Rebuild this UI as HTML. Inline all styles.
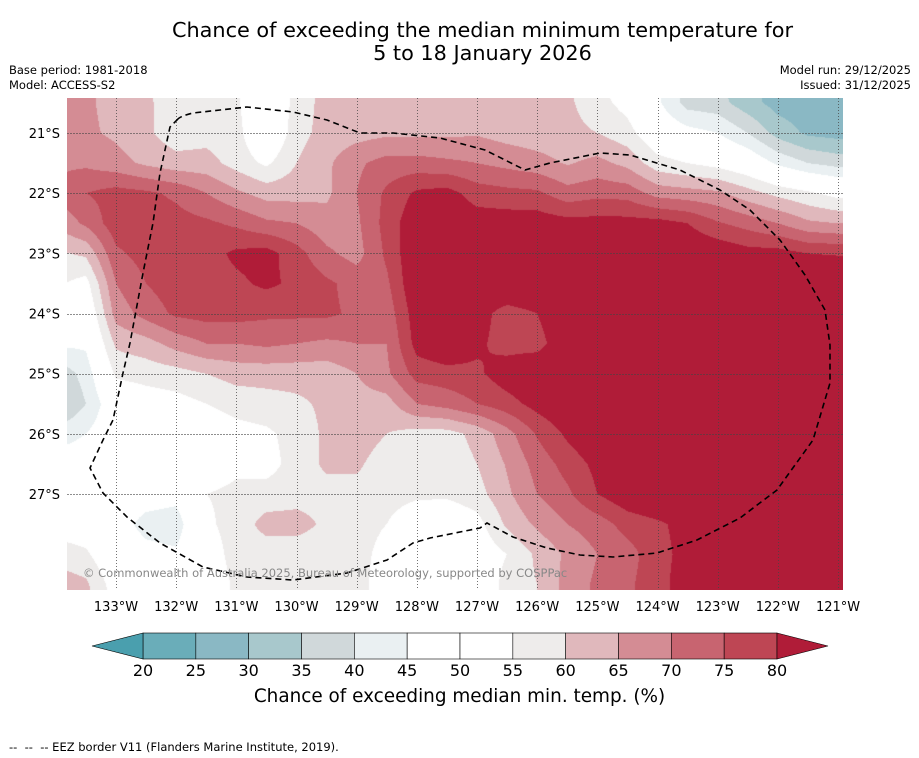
<!DOCTYPE html>
<html><head><meta charset="utf-8">
<style>
html,body{margin:0;padding:0;background:#fff;}
body{width:919px;height:758px;position:relative;overflow:hidden;font-family:"DejaVu Sans","Liberation Sans",sans-serif;color:#000;}
.t{position:absolute;white-space:nowrap;}
#map{position:absolute;left:67px;top:98px;}
svg{position:absolute;left:0;top:0;}
</style></head>
<body>
<div class="t" style="left:0;width:965px;text-align:center;top:19px;font-size:20.8px;line-height:23px;">Chance of exceeding the median minimum temperature for<br>5 to 18 January 2026</div>
<div class="t" style="left:9px;top:63px;font-size:11.5px;">Base period: 1981-2018</div>
<div class="t" style="left:9px;top:78px;font-size:11.5px;">Model: ACCESS-S2</div>
<div class="t" style="right:8px;top:63px;font-size:11.5px;">Model run: 29/12/2025</div>
<div class="t" style="right:8px;top:78px;font-size:11.5px;">Issued: 31/12/2025</div>
<canvas id="map" width="776" height="492"></canvas>
<svg id="ov" width="919" height="758"></svg>
<div class="t" style="left:83px;top:566px;font-size:11.5px;color:#888;">© Commonwealth of Australia 2025, Bureau of Meteorology, supported by COSPPac</div>
<div class="t" style="left:0;width:919px;text-align:center;top:686px;font-size:18.4px;">Chance of exceeding median min. temp. (%)</div>
<div class="t" style="left:9px;top:740px;font-size:11.5px;">-- &nbsp;-- &nbsp;-- EEZ border V11 (Flanders Marine Institute, 2019).</div>
<script>
const gridLons=[134,133.5,133,132.5,132,131.5,131,130.5,130,129.5,129,128.5,128,127.5,127,126.5,126,125.5,125,124.5,124,123.5,123,122.5,122,121.5,121,120.5];
const gridLats=[20,20.5,21,21.5,22,22.5,23,23.5,24,24.5,25,25.5,26,26.5,27,27.5,28,28.5,29];
const row20=[67,66,63,60,58,57,55,48,56,62,63,63,63,63,62,62,61,60,56,50,45,37,35,31,27,25,25,25];
const row205=[67,66,63,61,57,57,56,48,57,62,63,63,63,63,62,62,61,61,57,53,46,38,37,32,28,27,27,27];
const row21=[67,66,64,61,57,58,57,48,58,62,63,64,64,64,64.5,63,62,61.5,60,57,50,47,45,40,33,29,28,28];
const row215=[69,69,67,64,62,62,58,54,60,64,69,72,72,71,70,68.5,67,64.5,66.5,63.5,57,55,53,50,44,40,38,38];
const row22=[71,75,77,76,74,70,66,63,63,64,70,76,81,82,77.5,76.5,76,72,73.5,73,68,67,66,62,58.5,56,53,52];
const row225=[66,71,78,78,77,76,74,71,70,67,69,77,84,85,83,83,83,82,82,82,82,80,75.5,73,70,66,65,65];
const row23=[59,61,74,77,78,78,81,82,77,71,68,76,85,86,85,85,85,85,85,85,85,85,84,82,82,80,79.5,79.5];
const row235=[56,53,70,75,78,78,79,81,79,76,73,74,85,86,84,85,85,85,86,86,86,86,86,86,86,86,86,86];
const row24=[50,49,67,72,76,77,77,76,76,76,74,72,83,85,82,78,80,85,86,86,86,86,86,86,86,86,86,86];
const row245=[46,46,61,63,67,70,70,71,70,69,70,70,82,85,81,78,78,84,86,86,86,86,86,86,86,86,86,86];
const row25=[36,42,56,57,58,60,62,62,62,62,65,69,77,78,79,83,85,86,86,86,86,86,86,86,86,86,86,86];
const row255=[33,40,50,52,53,55,57,58,59,61,63,63,70,72,75,78,82,85,86,86,86,86,86,86,86,86,86,86];
const row26=[42,45,50,51,51,51,53,54,57,61,63,60,58,58,61.5,68,75.5,81,85,86,86,86,86,86,86,86,86,86];
const row265=[48,49,50,50,49,52,54,53,57,61,61,57,57,57,60,65.5,72,77,81.5,85,86,86,86,86,86,86,86,86];
const row27=[50,50,49,48,47,55,56,57,58,58,58,57,56,56,58,64,70,74,80,84,86,86,86,86,86,86,86,86];
const row275=[52,51,48,43,42,54,57,62,62,59,57,55,51,50,53,61,66,70,72.5,77,79,82,86,86,86,86,86,86];
const row28=[58,56,49,47,46,52,57,57,57,57,57,53,49,49,51,55,61,66,70,73,78,82,86,86,86,86,86,86];
const row285=[63,61,52,51,50,51,56,57,57,57,57,52,49,49,50,57,60,67,71,74,78,83,86,86,86,86,86,86];
const row29=[65,62,54,52,50,51,56,57,57,57,57,52,49,49,50,57,60,67,71,74,78,83,86,86,86,86,86,86];
const probRows=[row20,row205,row21,row215,row22,row225,row23,row235,row24,row245,row25,row255,row26,row265,row27,row275,row28,row285,row29];
const levelBounds=[20,25,30,35,40,45,50,55,60,65,70,75,80];
const levelColors=["#4a9fae","#6aadb9","#8ab8c4","#a8c8cc","#d0d8da","#eaf0f2","#ffffff","#ffffff","#eeeceb","#e0b8bc","#d48c94","#c86470","#be4654","#b01c38"];
const lonTicks=[133,132,131,130,129,128,127,126,125,124,123,122,121];
const latTicks=[21,22,23,24,25,26,27];
const cbTicks=[20,25,30,35,40,45,50,55,60,65,70,75,80];

const PX=60.17;
function xScale(lon){return 116+(133-lon)*PX;}
function yScale(lat){return 133+(lat-21)*PX;}
function lonOf(x){return 133-(x-116)/PX;}
function latOf(y){return 21+(y-133)/PX;}
function cbX(v){return 143+(v-20)*(777-143)/60;}
function colorIdx(v){let i=0;while(i<levelBounds.length&&v>=levelBounds[i])i++;return i;}
function hex(c){return [parseInt(c.substr(1,2),16),parseInt(c.substr(3,2),16),parseInt(c.substr(5,2),16)];}
const rgb=levelColors.map(hex);
function sample(lon,lat){
  let fi=(gridLons[0]-lon)/0.5, fj=(lat-gridLats[0])/0.5;
  fi=Math.max(0,Math.min(gridLons.length-1.001,fi));fj=Math.max(0,Math.min(gridLats.length-1.001,fj));
  const i=Math.floor(fi),j=Math.floor(fj),a=fi-i,b=fj-j;
  const r0=probRows[j],r1=probRows[j+1];
  return (r0[i]*(1-a)+r0[i+1]*a)*(1-b)+(r1[i]*(1-a)+r1[i+1]*a)*b;
}
const cv=document.getElementById('map');const ctx=cv.getContext('2d');
const img=ctx.createImageData(776,492);
for(let py=0;py<492;py++){for(let px=0;px<776;px++){
  const v=sample(lonOf(67+px+0.5),latOf(98+py+0.5));
  const c=rgb[colorIdx(v)];const k=(py*776+px)*4;
  img.data[k]=c[0];img.data[k+1]=c[1];img.data[k+2]=c[2];img.data[k+3]=255;}}
ctx.putImageData(img,0,0);

const NS='http://www.w3.org/2000/svg';
const ov=document.getElementById('ov');
function mk(tag,attrs,parent){const e=document.createElementNS(NS,tag);for(const k in attrs)e.setAttribute(k,attrs[k]);(parent||ov).appendChild(e);return e;}
lonTicks.forEach(function(l){
  const x=Math.round(xScale(l))+0.5;
  const g=mk('line',{x1:x,y1:98,x2:x,y2:590,stroke:'#444','stroke-width':1,'stroke-dasharray':'1,2','stroke-opacity':0.75});
  
  
  const t=mk('text',{x:xScale(l),y:611,'font-size':13,'text-anchor':'middle','font-family':'DejaVu Sans, Liberation Sans, sans-serif'});
  t.textContent=l+'°W';
  
  
});
latTicks.forEach(function(l){
  const y=Math.round(yScale(l))+0.5;
  const g=mk('line',{x1:67,y1:y,x2:843,y2:y,stroke:'#444','stroke-width':1,'stroke-dasharray':'2,1','stroke-opacity':0.6});
  
  
  const t=mk('text',{x:60,y:yScale(l)+5,'font-size':13,'text-anchor':'end','font-family':'DejaVu Sans, Liberation Sans, sans-serif'});
  t.textContent=l+'°S';
  
  
});
const eez=mk('path',{d:'M177,120 Q180,116 193,113 L247,107 L293,112 L327,120 L360,133 L393,133 L440,138 L485,150 L525,170 L550,163 L600,153 L630,155 L680,170 L720,190 L750,210 L780,240 L805,275 L825,310 L830,345 L830,383 L813,440 L777,490 L740,518 L697,540 L657,553 L613,557 L580,555 L547,548 L513,537 L487,523 L480,528 L430,538 L413,543 L387,560 L347,573 L293,580 L247,577 L203,567 L160,543 L127,517 L103,493 L90,468 L103,440 L113,420 L123,373 L130,343 L143,273 L153,223 L160,173 L170,127 Z',fill:'none',stroke:'#000','stroke-width':1.6,'stroke-dasharray':'6,4'});


const cbw=cbX(25)-cbX(20);
for(let i=0;i<12;i++){
  const r=mk('rect',{x:cbX(cbTicks[i]),y:633,width:cbw,height:26,fill:levelColors[i+1],stroke:'#000','stroke-width':0.6});
  
  
}
const lt=mk('polygon',{points:'143,633 92,646 143,659',fill:levelColors[0],stroke:'#000','stroke-width':0.6});


const rt=mk('polygon',{points:'777,633 828,646 777,659',fill:levelColors[13],stroke:'#000','stroke-width':0.6});


cbTicks.forEach(function(v){
  const t=mk('text',{x:cbX(v),y:676,'font-size':16,'text-anchor':'middle','font-family':'DejaVu Sans, Liberation Sans, sans-serif'});
  t.textContent=v;
  
  
});
</script>
</body></html>
